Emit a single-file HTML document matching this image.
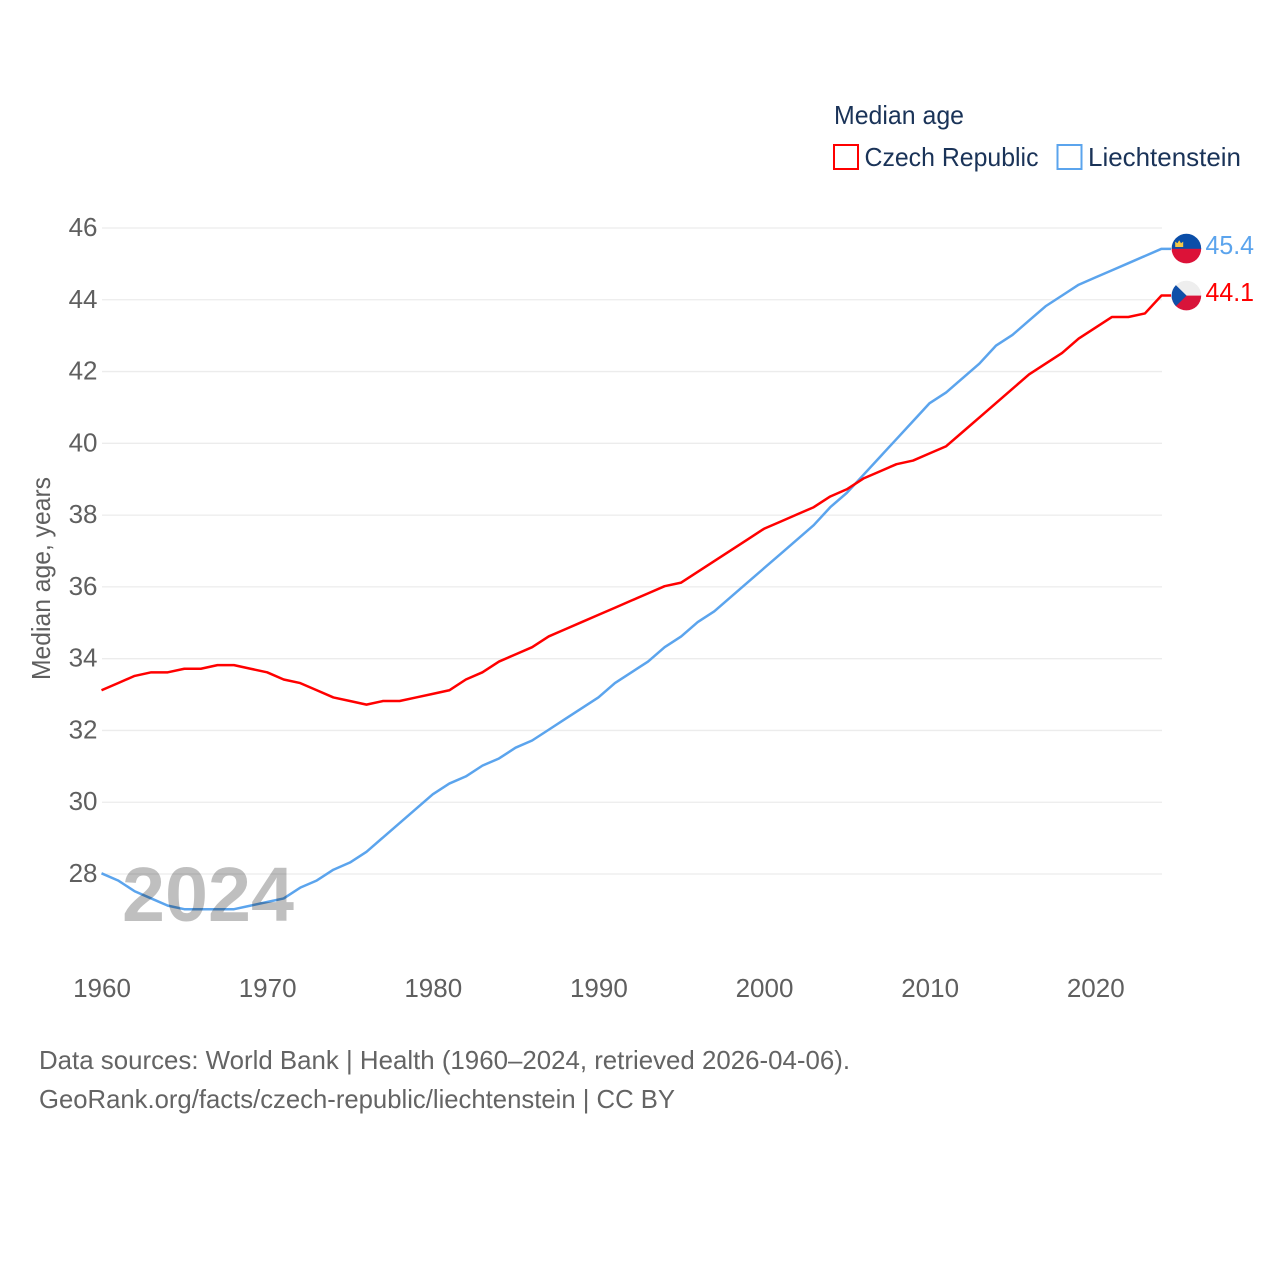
<!DOCTYPE html>
<html lang="en">
<head>
<meta charset="utf-8">
<title>Median age: Czech Republic and Liechtenstein</title>
<style>
html,body{margin:0;padding:0;background:#fff;width:1280px;height:1280px;overflow:hidden}
svg{display:block;font-family:"Liberation Sans",Arial,sans-serif}
</style>
</head>
<body>
<svg id="chart" width="1280" height="1280" viewBox="0 0 1280 1280" xmlns="http://www.w3.org/2000/svg">
  <defs>
    <clipPath id="flag-clip-li"><circle cx="1186.4" cy="248.6" r="14.8"/></clipPath>
    <clipPath id="flag-clip-cz"><circle cx="1186.4" cy="295.6" r="14.8"/></clipPath>
  </defs>
  <g id="grid"></g>
  <g id="yticks"></g>
  <g id="xticks"></g>
  <g id="series"></g>

  <text transform="translate(50,680) rotate(-90)" font-size="26" fill="#5f5f5f" textLength="203" lengthAdjust="spacingAndGlyphs">Median age, years</text>

  <text x="834" y="124" font-size="26" fill="#1a3358" textLength="130" lengthAdjust="spacingAndGlyphs">Median age</text>
  <g>
    <rect x="834" y="145" width="24" height="24" fill="#fff" stroke="#ff0000" stroke-width="2"/>
    <text x="864.5" y="166" font-size="26" fill="#1a3358" textLength="174" lengthAdjust="spacingAndGlyphs">Czech Republic</text>
  </g>
  <g>
    <rect x="1057.5" y="145" width="24" height="24" fill="#fff" stroke="#5ba4ed" stroke-width="2"/>
    <text x="1088" y="166" font-size="26" fill="#1a3358" textLength="153" lengthAdjust="spacingAndGlyphs">Liechtenstein</text>
  </g>

  <g clip-path="url(#flag-clip-li)">
    <rect x="1170" y="232" width="34" height="17" fill="#0b4ea8"/>
    <rect x="1170" y="248.8" width="34" height="17" fill="#dc1238"/>
    <path d="M1175.2 247v-5.4l2.2 1.6 1.8-3 1.8 3 2.2-1.6v5.4z" fill="#f6c945"/>
  </g>
  <g clip-path="url(#flag-clip-cz)">
    <rect x="1170" y="279" width="34" height="16.8" fill="#eeeeee"/>
    <rect x="1170" y="295.6" width="34" height="17" fill="#d8143a"/>
    <path d="M1171 280.4 L1186.6 295.6 L1171 310.9z" fill="#0f4fa8"/>
  </g>

  <text x="1205.5" y="254" font-size="26" fill="#5ba4ed" textLength="48.5" lengthAdjust="spacingAndGlyphs">45.4</text>
  <text x="1205.5" y="301" font-size="26" fill="#ff0000" textLength="48.5" lengthAdjust="spacingAndGlyphs">44.1</text>

  <text x="122" y="921" font-size="77" font-weight="700" fill="#000" fill-opacity="0.25" textLength="172" lengthAdjust="spacingAndGlyphs">2024</text>

  <text x="39" y="1069" font-size="26" fill="#646464" textLength="811" lengthAdjust="spacingAndGlyphs">Data sources: World Bank | Health (1960–2024, retrieved 2026-04-06).</text>
  <text x="39" y="1108" font-size="26" fill="#646464" textLength="636" lengthAdjust="spacingAndGlyphs">GeoRank.org/facts/czech-republic/liechtenstein | CC BY</text>
</svg>
<script>
const years = [1960,1961,1962,1963,1964,1965,1966,1967,1968,1969,1970,1971,1972,1973,1974,1975,1976,1977,1978,1979,1980,1981,1982,1983,1984,1985,1986,1987,1988,1989,1990,1991,1992,1993,1994,1995,1996,1997,1998,1999,2000,2001,2002,2003,2004,2005,2006,2007,2008,2009,2010,2011,2012,2013,2014,2015,2016,2017,2018,2019,2020,2021,2022,2023,2024];
const czechRepublic = [33.1,33.3,33.5,33.6,33.6,33.7,33.7,33.8,33.8,33.7,33.6,33.4,33.3,33.1,32.9,32.8,32.7,32.8,32.8,32.9,33.0,33.1,33.4,33.6,33.9,34.1,34.3,34.6,34.8,35.0,35.2,35.4,35.6,35.8,36.0,36.1,36.4,36.7,37.0,37.3,37.6,37.8,38.0,38.2,38.5,38.7,39.0,39.2,39.4,39.5,39.7,39.9,40.3,40.7,41.1,41.5,41.9,42.2,42.5,42.9,43.2,43.5,43.5,43.6,44.1];
const liechtenstein = [28.0,27.8,27.5,27.3,27.1,27.0,27.0,27.0,27.0,27.1,27.2,27.3,27.6,27.8,28.1,28.3,28.6,29.0,29.4,29.8,30.2,30.5,30.7,31.0,31.2,31.5,31.7,32.0,32.3,32.6,32.9,33.3,33.6,33.9,34.3,34.6,35.0,35.3,35.7,36.1,36.5,36.9,37.3,37.7,38.2,38.6,39.1,39.6,40.1,40.6,41.1,41.4,41.8,42.2,42.7,43.0,43.4,43.8,44.1,44.4,44.6,44.8,45.0,45.2,45.4];
const yTickValues = [28,30,32,34,36,38,40,42,44,46];
const xTickValues = [1960,1970,1980,1990,2000,2010,2020];

const SVG_NS = 'http://www.w3.org/2000/svg';
const xScale = function (year) { return 102 + (year - 1960) * (1162 - 102) / 64; };
const yScale = function (age) { return 874 - (age - 28) * (874 - 228) / 18; };

const gridGroup = document.getElementById('grid');
const yTickGroup = document.getElementById('yticks');
const xTickGroup = document.getElementById('xticks');
const seriesGroup = document.getElementById('series');

yTickValues.forEach(function (value) {
  const line = document.createElementNS(SVG_NS, 'line');
  
  
  line.setAttribute('x1', xScale(1960));
  line.setAttribute('x2', xScale(2024));
  line.setAttribute('y1', yScale(value));
  line.setAttribute('y2', yScale(value));
  line.setAttribute('stroke', '#ececec');
  line.setAttribute('stroke-width', '1.3');
  gridGroup.appendChild(line);

  const label = document.createElementNS(SVG_NS, 'text');
  
  
  label.setAttribute('x', 97.5);
  label.setAttribute('y', yScale(value) + 8);
  label.setAttribute('text-anchor', 'end');
  label.setAttribute('font-size', '26');
  label.setAttribute('fill', '#5f5f5f');
  label.textContent = value;
  yTickGroup.appendChild(label);
});

xTickValues.forEach(function (value) {
  const label = document.createElementNS(SVG_NS, 'text');
  
  
  label.setAttribute('x', xScale(value));
  label.setAttribute('y', 997);
  label.setAttribute('text-anchor', 'middle');
  label.setAttribute('font-size', '26');
  label.setAttribute('fill', '#5f5f5f');
  label.textContent = value;
  xTickGroup.appendChild(label);
});

function drawSeries(values, color, name) {
  const points = values.map(function (value, i) {
    return (xScale(years[i]) - 0.5).toFixed(2) + ',' + (yScale(value) - 0.7).toFixed(2);
  });
  const last = values[values.length - 1];
  points.push((xScale(years[years.length - 1]) + 9).toFixed(2) + ',' + (yScale(last) - 0.7).toFixed(2));
  const path = document.createElementNS(SVG_NS, 'polyline');
  
  
  path.setAttribute('points', points.join(' '));
  path.setAttribute('fill', 'none');
  path.setAttribute('stroke', color);
  path.setAttribute('stroke-width', '2.5');
  path.setAttribute('stroke-linejoin', 'round');
  seriesGroup.appendChild(path);
}

drawSeries(liechtenstein, '#5ba4ed', 'line-liechtenstein');
drawSeries(czechRepublic, '#ff0000', 'line-czech-republic');
</script>
</body>
</html>
